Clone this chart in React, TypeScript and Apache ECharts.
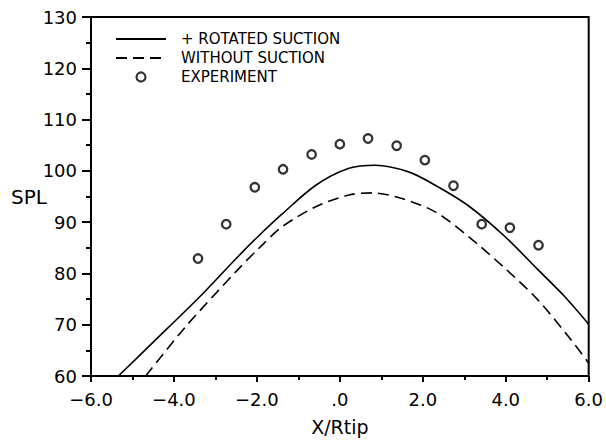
import React, { useEffect, useRef } from "react";
import * as echarts from "echarts";

const rotatedX = [-5.34, -4.5, -3.36, -2.5, -1.96, -1.39, -0.58, 0.22, 0.86, 1.66, 2.3, 3.1, 3.98, 4.78, 5.42, 6.0];
const rotatedY = [60, 66.6, 75.6, 82.9, 87.3, 91.6, 97.2, 100.5, 101.1, 99.8, 97.2, 93.2, 87.2, 80.7, 75.5, 70.1];

const withoutX = [-4.68, -3.72, -2.5, -1.94, -1.39, -0.58, 0.22, 0.78, 1.5, 2.3, 3.1, 3.98, 4.78, 5.58, 6.0];
const withoutY = [60, 69.6, 80.4, 85.0, 89.1, 93.0, 95.3, 95.7, 94.6, 92.0, 87.2, 81.0, 74.8, 67.0, 62.5];

const expX = [-3.42, -2.74, -2.05, -1.37, -0.68, 0, 0.68, 1.37, 2.05, 2.74, 3.42, 4.1, 4.79];
const expY = [82.9, 89.6, 96.8, 100.3, 103.2, 105.2, 106.3, 104.9, 102.1, 97.1, 89.6, 88.9, 85.5];

const xTickValues = [-6, -4, -2, 0, 2, 4, 6];
const xTickLabels = ["\u22126.0", "\u22124.0", "\u22122.0", ".0", "2.0", "4.0", "6.0"];

const seriesNames = ["+ ROTATED SUCTION", "WITHOUT SUCTION", "EXPERIMENT"];

const zip = (xs: number[], ys: number[]) => xs.map((x, i) => [x, ys[i]]);

export default function App() {
  const ref = useRef<HTMLDivElement>(null);
  useEffect(() => {
    if (!ref.current) return;
    const chart = echarts.init(ref.current, undefined, { renderer: "svg" });
    const font = "DejaVu Sans";
    chart.setOption({
      animation: false,
      backgroundColor: "#fff",
      grid: {
        left: 91,
        right: 15,
        top: 17,
        bottom: 67,
        show: true,
        borderColor: "#000",
        borderWidth: 2,
        backgroundColor: "transparent",
      },
      legend: {
        left: 115,
        top: 31.5,
        orient: "vertical",
        itemWidth: 50,
        itemHeight: 9,
        itemGap: 4,
        padding: 0,
        selectedMode: false,
        data: [
          { name: seriesNames[0], itemStyle: { opacity: 0 } },
          { name: seriesNames[1], itemStyle: { opacity: 0 } },
          { name: seriesNames[2], itemStyle: { borderWidth: 2.2 } },
        ],
        textStyle: {
          fontFamily: font,
          fontSize: 15,
          color: "#000",
          padding: [0, 0, 0, 10],
        },
      },
      xAxis: {
        type: "value",
        min: -6,
        max: 6,
        interval: 2,
        name: "X/Rtip",
        nameLocation: "middle",
        nameGap: 41,
        nameMoveOverlap: false,
        nameTextStyle: { fontFamily: font, fontSize: 19, color: "#000" },
        axisLine: { show: true, onZero: false, lineStyle: { color: "#000", width: 2 } },
        axisTick: { show: true, length: 6, lineStyle: { color: "#000", width: 2 } },
        minorTick: { show: true, splitNumber: 2, length: 4, lineStyle: { color: "#000", width: 2 } },
        splitLine: { show: false },
        axisLabel: {
          margin: 14,
          fontFamily: font,
          fontSize: 18,
          color: "#000",
          formatter: (v: number) => {
            const i = xTickValues.indexOf(Math.round(v * 1000) / 1000);
            return i >= 0 ? xTickLabels[i] : "";
          },
        },
      },
      yAxis: {
        type: "value",
        min: 60,
        max: 130,
        interval: 10,
        name: "SPL",
        nameLocation: "middle",
        nameRotate: 0,
        nameGap: 44,
        nameMoveOverlap: false,
        nameTextStyle: { fontFamily: font, fontSize: 20, color: "#000" },
        axisLine: { show: true, onZero: false, lineStyle: { color: "#000", width: 2 } },
        axisTick: { show: true, length: 9, lineStyle: { color: "#000", width: 2 } },
        minorTick: { show: true, splitNumber: 2, length: 5, lineStyle: { color: "#000", width: 2 } },
        splitLine: { show: false },
        axisLabel: { margin: 14, fontFamily: font, fontSize: 18, color: "#000" },
      },
      series: [
        {
          name: seriesNames[0],
          type: "line",
          data: zip(rotatedX, rotatedY),
          smooth: 0.3,
          showSymbol: false,
          symbol: "none",
          lineStyle: { color: "#000", width: 1.6, type: "solid" },
          itemStyle: { color: "#000" },
        },
        {
          name: seriesNames[1],
          type: "line",
          data: zip(withoutX, withoutY),
          smooth: 0.3,
          showSymbol: false,
          symbol: "none",
          lineStyle: { color: "#000", width: 1.6, type: [11, 6] },
          itemStyle: { color: "#000" },
        },
        {
          name: seriesNames[2],
          type: "scatter",
          data: zip(expX, expY),
          symbol: "circle",
          symbolSize: 8.5,
          itemStyle: { color: "#fff", borderColor: "#000", borderWidth: 2.3 },
        },
      ],
    });
    return () => chart.dispose();
  }, []);
  return <div ref={ref} style={{ width: 606, height: 443, position: "absolute", left: 0, top: 0 }} />;
}
